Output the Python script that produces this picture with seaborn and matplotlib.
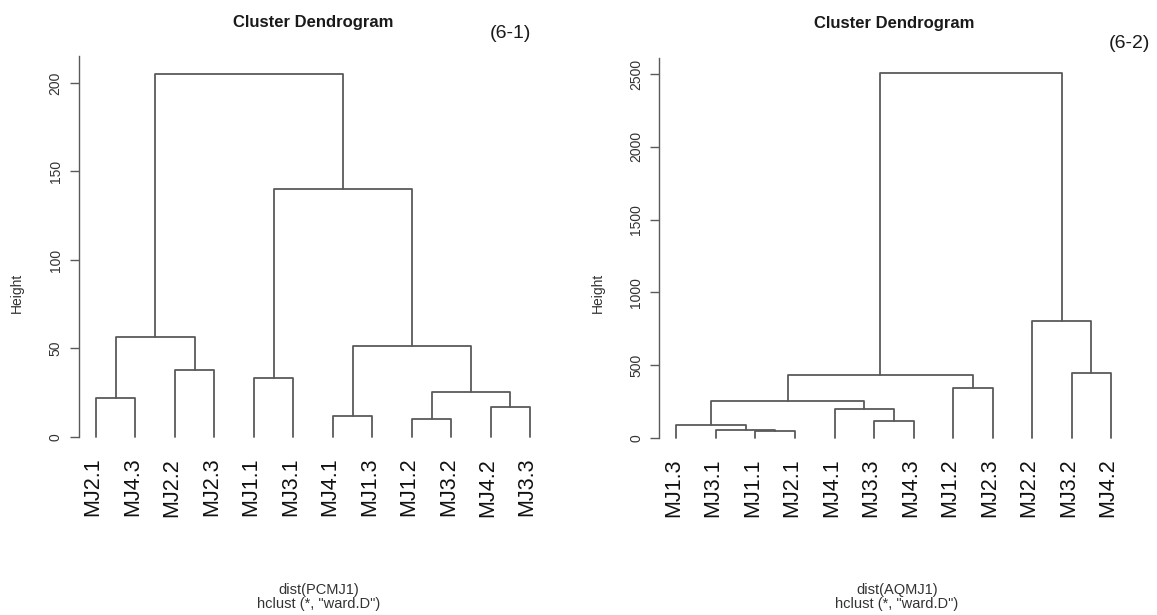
import numpy as np
import pandas as pd
import matplotlib
matplotlib.use("Agg")
import matplotlib.pyplot as plt
from matplotlib.transforms import ScaledTranslation
import seaborn as sns

# ---------------- data ----------------
# Leaf order as displayed (left panel: dist(PCMJ1))
pc_leaves = ["MJ2.1", "MJ4.3", "MJ2.2", "MJ2.3", "MJ1.1", "MJ3.1",
             "MJ4.1", "MJ1.3", "MJ1.2", "MJ3.2", "MJ4.2", "MJ3.3"]
# merges (R hclust convention: negative = leaf position, positive = earlier merge row)
pc_merge_a = [-9, -7, -11, -1, 1, -5, -3, 2, 4, 6, 9]
pc_merge_b = [-10, -8, -12, -2, 3, -6, -4, 5, 7, 8, 10]
pc_heights = [10.4, 11.7, 16.8, 22.3, 25.3, 33.4, 37.7, 51.3, 56.6, 140.0, 205.3]
pc_yticks = [0, 50, 100, 150, 200]

# right panel: dist(AQMJ1)
aq_leaves = ["MJ1.3", "MJ3.1", "MJ1.1", "MJ2.1", "MJ4.1", "MJ3.3",
             "MJ4.3", "MJ1.2", "MJ2.3", "MJ2.2", "MJ3.2", "MJ4.2"]
aq_merge_a = [-3, -2, -1, -6, -5, 3, -8, 6, -11, -10, 8]
aq_merge_b = [-4, 1, 2, -7, 4, 5, -9, 7, -12, 9, 10]
aq_heights = [44, 55, 85, 114, 197, 251, 345, 428, 444, 803, 2505]
aq_yticks = [0, 500, 1000, 1500, 2000, 2500]

# ---------------- style ----------------
sns.set_theme(style="ticks")
plt.rcParams["font.family"] = ["Liberation Sans", "DejaVu Sans"]

W, H = 1157, 615
fig = plt.figure(figsize=(W / 100, H / 100), dpi=100)
LINE = "#5a5a5a"


def segments(merge_a, merge_b, heights):
    xs, hs = {}, {}
    rows = []
    for k, (a, b, h) in enumerate(zip(merge_a, merge_b, heights), start=1):
        def pos(c):
            if c < 0:
                return float(-c), 0.0
            return xs[c], hs[c]
        xa, ha = pos(a)
        xb, hb = pos(b)
        for px, py in [(xa, ha), (xa, h), (xb, h), (xb, hb)]:
            rows.append({"x": px, "y": py, "seg": k})
        xs[k] = (xa + xb) / 2.0
        hs[k] = h
    return pd.DataFrame(rows)


def draw(ax, leaves, ma, mb, hts, yticks, ytop):
    df = segments(ma, mb, hts)
    sns.lineplot(data=df, x="x", y="y", units="seg", estimator=None, sort=False,
                 color=LINE, linewidth=1.3, ax=ax, clip_on=False)
    n = len(leaves)
    ax.set_xlim(1 - 0.04 * (n - 1), n + 0.04 * (n - 1))
    ax.set_ylim(0, ytop)
    ax.set_xticks(range(1, n + 1))
    ax.set_xticklabels(leaves, rotation=90, fontsize=15.5, color="#111111")
    ax.tick_params(axis="x", length=0, pad=15)
    shift = ScaledTranslation(-3 / 100, 0, fig.dpi_scale_trans)
    for lab in ax.get_xticklabels():
        lab.set_transform(lab.get_transform() + shift)
    ax.set_yticks(yticks)
    ax.set_yticklabels([str(t) for t in yticks], rotation=90, va="center",
                       fontsize=10, color="#333333")
    ax.tick_params(axis="y", length=6.5, width=1.0, color=LINE, pad=5)
    for s in ["top", "right", "bottom"]:
        ax.spines[s].set_visible(False)
    ax.spines["left"].set_color(LINE)
    ax.spines["left"].set_linewidth(1.0)
    ax.set_xlabel("")
    ax.set_ylabel("")
    ax.grid(False)


# left panel
axL = fig.add_axes([78.6 / W, (H - 437) / H, 469 / W, 381 / H])
draw(axL, pc_leaves, pc_merge_a, pc_merge_b, pc_heights, pc_yticks, 215.2)

# right panel
axR = fig.add_axes([659 / W, (H - 437.7) / H, 469.6 / W, 379.7 / H])
draw(axR, aq_leaves, aq_merge_a, aq_merge_b, aq_heights, aq_yticks, 2611)

# titles and annotations
fig.text(313 / W, 1 - 22 / H, "Cluster Dendrogram", ha="center", va="center",
         fontsize=12, fontweight="bold", color="#1a1a1a")
fig.text(894 / W, 1 - 23.5 / H, "Cluster Dendrogram", ha="center", va="center",
         fontsize=12, fontweight="bold", color="#1a1a1a")
fig.text(510 / W, 1 - 33 / H, "(6-1)", ha="center", va="center", fontsize=14, color="#1a1a1a")
fig.text(1129 / W, 1 - 43 / H, "(6-2)", ha="center", va="center", fontsize=14, color="#1a1a1a")

fig.text(17 / W, 1 - 293 / H, "Height", rotation=90, ha="center", va="center",
         fontsize=10, color="#333333")
fig.text(598 / W, 1 - 293 / H, "Height", rotation=90, ha="center", va="center",
         fontsize=10, color="#333333")

fig.text(319 / W, 1 - 590 / H, "dist(PCMJ1)", ha="center", va="center", fontsize=10.5, color="#333333")
fig.text(319 / W, 1 - 604 / H, 'hclust (*, "ward.D")', ha="center", va="center", fontsize=10.5, color="#333333")
fig.text(897 / W, 1 - 590 / H, "dist(AQMJ1)", ha="center", va="center", fontsize=10.5, color="#333333")
fig.text(897 / W, 1 - 604 / H, 'hclust (*, "ward.D")', ha="center", va="center", fontsize=10.5, color="#333333")

fig.savefig("out.png", dpi=100, facecolor="white")
